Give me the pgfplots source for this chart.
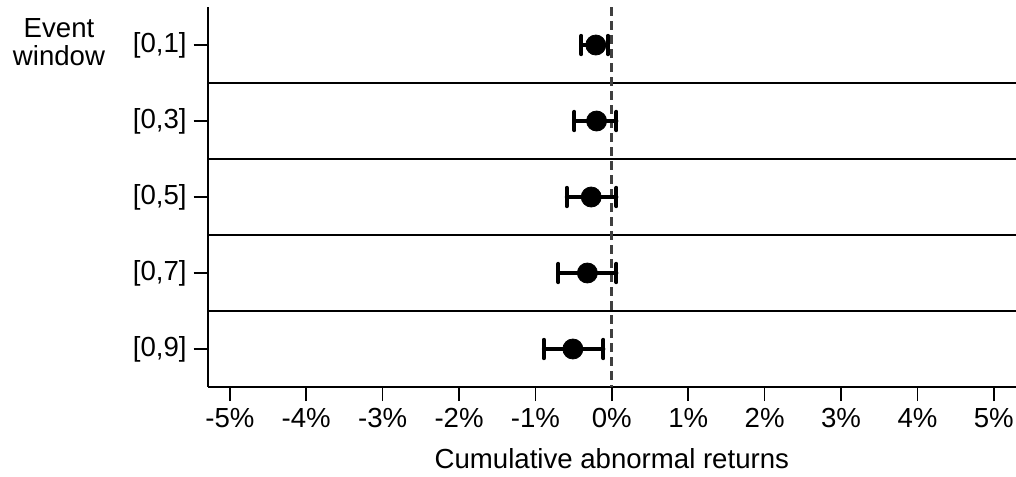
\documentclass[border=0pt]{standalone}
\usepackage{pgfplots}
\pgfplotsset{compat=1.18}
\usepackage{fontspec}
\setmainfont{Liberation Sans}
\begin{document}
\begin{tikzpicture}
\begin{axis}[
  scale only axis, width=404.15pt, height=190pt,
  at={(0,0)}, anchor=south west,
  xmin=-5.29, xmax=5.29, ymin=0.5, ymax=5.5, y dir=reverse,
  axis lines*=left, axis line style={line width=1pt},
  tick align=outside, major tick length=7pt,
  tick style={line width=0.8pt, black},
  xtick={-5,-4,-3,-2,-1,0,1,2,3,4,5},
  xticklabels={-5\%,-4\%,-3\%,-2\%,-1\%,0\%,1\%,2\%,3\%,4\%,5\%},
  ytick={1,2,3,4,5},
  yticklabels={{[0,1]},{[0,3]},{[0,5]},{[0,7]},{[0,9]}},
  ticklabel style={font=\fontsize{13.8}{16}\selectfont},
  extra y ticks={1.5,2.5,3.5,4.5},
  extra y tick labels={},
  extra y tick style={major tick length=0pt, grid=major,
     major grid style={black, line width=0.6pt}},
  xlabel={Cumulative abnormal returns},
  every axis x label/.style={at={(rel axis cs:0.5,0)}, anchor=base, yshift=-40.5pt,
     font=\fontsize{13.8}{16}\selectfont},
  clip=false,
]
\draw[dash pattern=on 4.5pt off 2.5pt, line width=1.5pt, black!75]
  (axis cs:0,0.5) -- (axis cs:0,5.5);
\addplot[black, only marks, mark=*, mark size=5pt,
  error bars/.cd, x dir=both, x explicit,
  error mark=|,
  error bar style={line width=2pt, line cap=round},
  error mark options={mark size=4.6pt, line width=2pt, line cap=round}]
  coordinates {
  (-0.21,1) += (0.16,0) -= (0.19,0)
  (-0.20,2) += (0.26,0) -= (0.29,0)
  (-0.27,3) += (0.33,0) -= (0.32,0)
  (-0.32,4) += (0.38,0) -= (0.38,0)
  (-0.51,5) += (0.40,0) -= (0.38,0)
  };
\end{axis}
\node[anchor=base, font=\fontsize{13.8}{16}\selectfont] at (-74.35pt,174.5pt) {Event};
\node[anchor=base, font=\fontsize{13.8}{16}\selectfont] at (-74.35pt,160.5pt) {window};
\pgfresetboundingbox
\path[use as bounding box] (-103.85pt,-44.5pt) rectangle (404.15pt,193.5pt);
\end{tikzpicture}
\end{document}
